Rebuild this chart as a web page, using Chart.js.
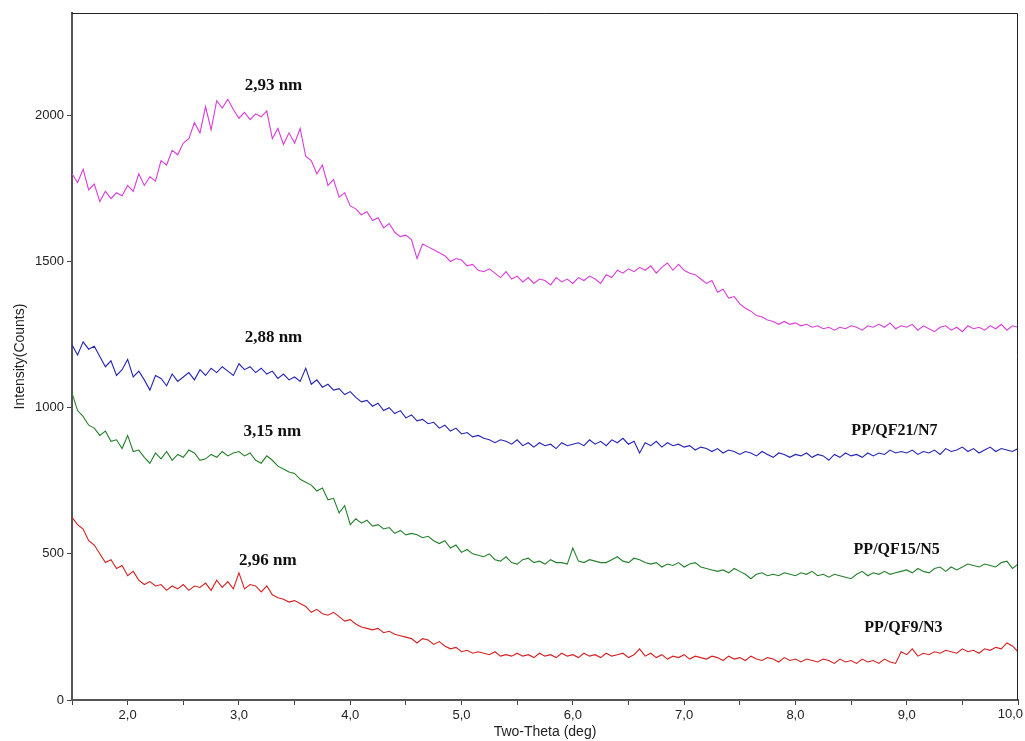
<!DOCTYPE html>
<html lang="en">
<head>
<meta charset="UTF-8">
<title>XRD patterns PP/QF</title>
<script src="https://cdn.jsdelivr.net/npm/chart.js"></script>
<style>
  html, body { margin: 0; padding: 0; background: #fff; }
</style>
</head>
<body>
<canvas id="xrdChart" width="1025" height="741"></canvas>
<script>
// scan positions (2-theta, deg)
const twoTheta = [
  1.50,1.55,1.60,1.65,1.70,1.75,1.80,1.85,1.90,1.95,
  2.00,2.05,2.10,2.15,2.20,2.25,2.30,2.35,2.40,2.45,
  2.50,2.55,2.60,2.65,2.70,2.75,2.80,2.85,2.90,2.95,
  3.00,3.05,3.10,3.15,3.20,3.25,3.30,3.35,3.40,3.45,
  3.50,3.55,3.60,3.65,3.70,3.75,3.80,3.85,3.90,3.95,
  4.00,4.05,4.10,4.15,4.20,4.25,4.30,4.35,4.40,4.45,
  4.50,4.55,4.60,4.65,4.70,4.75,4.80,4.85,4.90,4.95,
  5.00,5.05,5.10,5.15,5.20,5.25,5.30,5.35,5.40,5.45,
  5.50,5.55,5.60,5.65,5.70,5.75,5.80,5.85,5.90,5.95,
  6.00,6.05,6.10,6.15,6.20,6.25,6.30,6.35,6.40,6.45,
  6.50,6.55,6.60,6.65,6.70,6.75,6.80,6.85,6.90,6.95,
  7.00,7.05,7.10,7.15,7.20,7.25,7.30,7.35,7.40,7.45,
  7.50,7.55,7.60,7.65,7.70,7.75,7.80,7.85,7.90,7.95,
  8.00,8.05,8.10,8.15,8.20,8.25,8.30,8.35,8.40,8.45,
  8.50,8.55,8.60,8.65,8.70,8.75,8.80,8.85,8.90,8.95,
  9.00,9.05,9.10,9.15,9.20,9.25,9.30,9.35,9.40,9.45,
  9.50,9.55,9.60,9.65,9.70,9.75,9.80,9.85,9.90,9.95,
  10.00
];

// top curve (magenta)
const countsTop = [
  1800,1770,1815,1745,1765,1705,1740,1715,1735,1725,
  1760,1740,1800,1760,1790,1775,1845,1830,1880,1865,
  1905,1920,1975,1940,2030,1950,2050,2025,2055,2020,
  1990,2010,1985,2005,1995,2015,1920,1955,1900,1940,
  1905,1955,1860,1845,1800,1830,1760,1780,1720,1735,
  1690,1680,1660,1670,1640,1650,1615,1630,1600,1585,
  1590,1575,1510,1560,1550,1540,1530,1520,1500,1510,
  1505,1485,1490,1470,1465,1475,1460,1445,1465,1440,
  1450,1430,1445,1425,1440,1435,1420,1445,1430,1440,
  1425,1445,1435,1450,1440,1425,1455,1445,1470,1460,
  1475,1465,1480,1470,1485,1460,1480,1495,1470,1490,
  1470,1460,1455,1440,1425,1435,1395,1405,1375,1380,
  1355,1340,1330,1315,1310,1300,1295,1285,1295,1285,
  1290,1280,1285,1275,1280,1270,1275,1265,1275,1270,
  1280,1275,1265,1280,1275,1285,1275,1290,1270,1280,
  1275,1285,1265,1280,1270,1260,1275,1280,1265,1275,
  1260,1280,1270,1275,1265,1280,1270,1285,1265,1280,
  1275
];

// PP/QF21/N7 (blue)
const countsN7 = [
  1215,1180,1225,1200,1210,1175,1140,1160,1110,1130,
  1165,1105,1125,1095,1060,1110,1100,1075,1115,1090,
  1105,1120,1095,1130,1110,1135,1120,1140,1125,1110,
  1150,1130,1140,1120,1135,1115,1125,1100,1115,1095,
  1105,1090,1135,1080,1095,1070,1080,1060,1065,1045,
  1055,1035,1020,1025,1005,1015,990,1000,980,990,
  965,975,955,960,945,950,930,940,920,930,
  910,915,900,905,895,890,880,890,885,875,
  890,870,880,865,880,870,875,860,880,870,
  875,880,870,890,875,885,870,890,880,895,
  875,885,845,880,870,885,865,880,870,875,
  865,870,855,865,860,850,860,845,855,850,
  840,850,845,835,850,840,830,845,840,830,
  840,835,845,830,840,835,820,840,830,845,
  835,840,830,845,835,845,840,855,845,850,
  845,855,840,850,845,855,840,860,850,855,
  865,850,860,845,855,865,850,860,855,850,
  860
];

// PP/QF15/N5 (green)
const countsN5 = [
  1050,990,970,940,930,905,920,885,890,860,
  905,850,855,830,810,845,825,850,820,840,
  830,855,845,820,825,840,830,850,835,845,
  850,835,845,820,810,835,820,800,790,780,
  775,755,745,735,715,725,685,690,640,665,
  600,620,605,615,595,600,585,590,570,580,
  565,570,565,555,560,545,535,545,520,530,
  505,515,500,495,490,500,480,475,490,470,
  465,480,485,470,475,465,480,470,470,465,
  520,475,470,480,475,470,470,480,490,475,
  470,485,480,470,465,470,455,465,460,470,
  455,465,470,455,450,445,440,445,435,450,
  440,430,415,430,435,425,430,425,435,430,
  425,435,430,440,425,430,420,430,425,420,
  415,430,440,425,435,430,440,430,435,440,
  445,435,450,440,435,450,455,440,455,445,
  455,465,460,455,465,460,455,470,475,450,
  465
];

// PP/QF9/N3 (red)
const countsN3 = [
  625,600,585,545,530,500,470,480,450,460,
  425,440,410,395,405,390,395,375,390,380,
  395,375,390,385,400,375,410,385,405,380,
  435,380,395,390,370,390,360,350,345,335,
  340,330,320,300,310,295,290,300,285,270,
  275,260,250,245,240,245,230,235,225,220,
  215,210,195,210,205,190,200,185,175,180,
  165,170,160,165,160,155,165,150,155,150,
  160,150,155,145,160,150,155,145,160,150,
  155,145,160,150,155,145,160,150,155,160,
  145,155,175,150,160,145,155,140,150,145,
  155,140,150,145,140,150,145,135,150,140,
  145,135,150,140,135,145,140,130,145,135,
  140,130,140,135,130,140,135,125,140,130,
  135,125,140,130,135,125,140,130,125,165,
  155,175,150,160,155,165,160,170,165,160,
  175,165,170,160,175,170,180,175,195,185,
  165
];

const yTickValues = [0, 500, 1000, 1500, 2000];
const sampleNames = ['', 'PP/QF21/N7', 'PP/QF15/N5', 'PP/QF9/N3'];
const peakLabels = ['2,93 nm', '2,88 nm', '3,15 nm', '2,96 nm'];

const sans = '"Liberation Sans", Arial, sans-serif';
const serif = '"Liberation Serif", "Times New Roman", serif';

function toPoints(values) {
  return values.map((v, i) => ({ x: twoTheta[i], y: v }));
}

function line(values, color) {
  return {
    data: toPoints(values),
    borderColor: color,
    borderWidth: 1.1,
    pointRadius: 0,
    tension: 0,
    fill: false
  };
}

function fmtDeg(v) {
  return v.toFixed(1).replace('.', ',');
}

// text placed in data coordinates
const textSpots = [
  { text: peakLabels[0], x: 3.31, y: 2100, size: 17 },
  { text: peakLabels[1], x: 3.31, y: 1238, size: 17 },
  { text: peakLabels[2], x: 3.30, y: 917, size: 17 },
  { text: peakLabels[3], x: 3.26, y: 476, size: 17 },
  { text: sampleNames[1], x: 8.89, y: 920, size: 16 },
  { text: sampleNames[2], x: 8.91, y: 513, size: 16 },
  { text: sampleNames[3], x: 8.97, y: 246, size: 16 }
];

const frameAndText = {
  id: 'frameAndText',
  afterDraw(chart) {
    const { ctx, chartArea, scales } = chart;
    ctx.save();
    ctx.strokeStyle = '#222';
    ctx.lineWidth = 1;
    ctx.beginPath();
    ctx.moveTo(chartArea.left, chartArea.top + 0.5);
    ctx.lineTo(chartArea.right - 0.5, chartArea.top + 0.5);
    ctx.lineTo(chartArea.right - 0.5, chartArea.bottom);
    ctx.stroke();

    ctx.fillStyle = '#111';
    ctx.textAlign = 'center';
    ctx.textBaseline = 'middle';
    textSpots.forEach(t => {
      ctx.font = 'bold ' + t.size + 'px ' + serif;
      ctx.fillText(t.text, scales.x.getPixelForValue(t.x), scales.y.getPixelForValue(t.y));
    });

    // last x label sits pulled in against the canvas edge
    ctx.font = '13px ' + sans;
    ctx.fillStyle = '#222';
    ctx.textAlign = 'right';
    ctx.textBaseline = 'top';
    ctx.fillText(fmtDeg(scales.x.max), chart.width - 2, chartArea.bottom + 8);
    ctx.restore();
  }
};

new Chart(document.getElementById('xrdChart').getContext('2d'), {
  type: 'line',
  data: {
    datasets: [
      line(countsTop, '#d93cd9'),
      line(countsN7, '#2323b8'),
      line(countsN5, '#24802a'),
      line(countsN3, '#d42020')
    ]
  },
  options: {
    responsive: false,
    animation: false,
    layout: { padding: { top: 13, right: 7, left: 0, bottom: 0 } },
    plugins: {
      legend: { display: false },
      tooltip: { enabled: false }
    },
    scales: {
      x: {
        type: 'linear',
        min: 1.5,
        max: 10,
        ticks: {
          stepSize: 0.5,
          autoSkip: false,
          maxRotation: 0,
          color: '#222',
          font: { family: sans, size: 13 },
          callback: v => (Number.isInteger(v) && v < 10) ? fmtDeg(v) : ''
        },
        grid: { drawOnChartArea: false, tickLength: 5, color: '#444' },
        border: { color: '#555', width: 2 },
        title: {
          display: true,
          text: 'Two-Theta (deg)',
          color: '#222',
          font: { family: sans, size: 14 },
          padding: { top: 0, bottom: 0 }
        },
        afterFit(s) { s.height = 41; s.paddingLeft = 0; s.paddingRight = 0; }
      },
      y: {
        min: 0,
        max: 2350,
        afterBuildTicks(s) { s.ticks = yTickValues.map(v => ({ value: v })); },
        ticks: {
          color: '#222',
          font: { family: sans, size: 13 },
          padding: 3,
          callback: v => String(v)
        },
        grid: { drawOnChartArea: false, tickLength: 5, color: '#444' },
        border: { color: '#555', width: 2 },
        title: {
          display: true,
          text: 'Intensity(Counts)',
          color: '#222',
          font: { family: sans, size: 14 },
          padding: { top: 12, bottom: 0 }
        },
        afterFit(s) { s.width = 72; s.paddingTop = 0; s.paddingBottom = 0; }
      }
    }
  },
  plugins: [frameAndText]
});
</script>
</body>
</html>
